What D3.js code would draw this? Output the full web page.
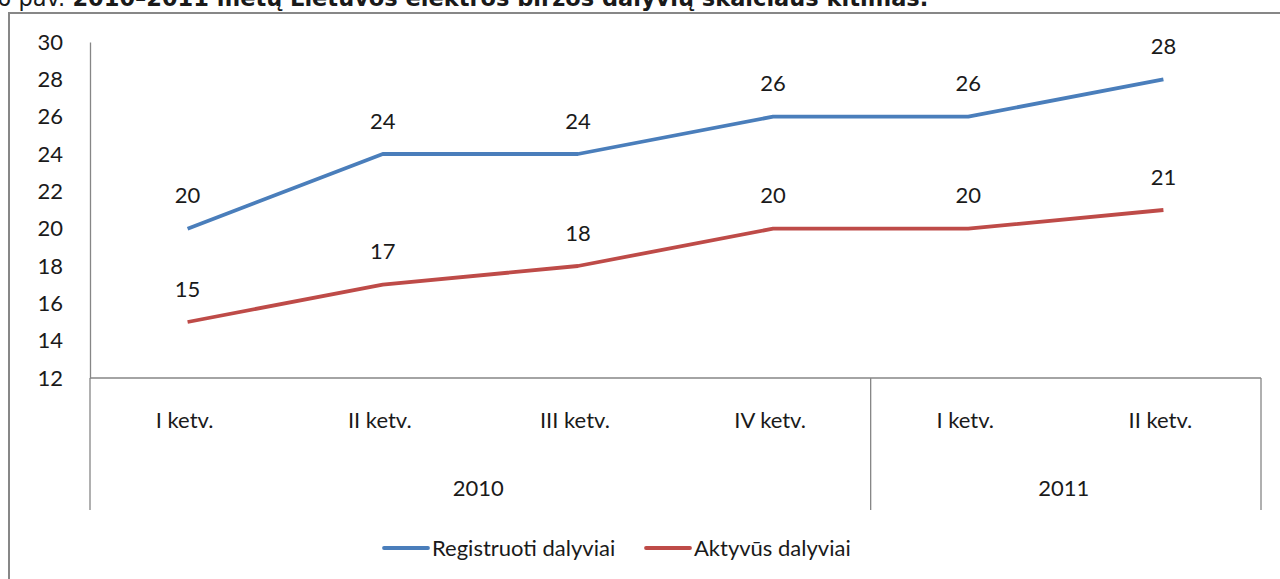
<!DOCTYPE html>
<html>
<head>
<meta charset="utf-8">
<script src="https://cdn.jsdelivr.net/npm/d3@7"></script>
<style>
body{margin:0;background:#fff;}
text{font-family:Lato,"Open Sans",sans-serif;fill:#1a1a1a;}
</style>
</head>
<body>
<div class="canvas"></div>
<script>
const categories=["I ketv.","II ketv.","III ketv.","IV ketv.","I ketv.","II ketv."];
const years=["2010","2011"];
const yearSpans=[4,2];
const registruoti=[20,24,24,26,26,28];
const aktyvus=[15,17,18,20,20,21];
const yTicks=[12,14,16,18,20,22,24,26,28,30];
const seriesNames=["Registruoti dalyviai","Aktyvūs dalyviai"];
const colors=["#4a7ebb","#be4b48"];

const svg=d3.select('.canvas').append('svg')
.attr("width",1280)
.attr('height',579);

// caption, cut off at the top like in the source
const cap=svg.append('text')
.attr("x",-3)
.attr("y",6)
.style("font-family","'DejaVu Sans',sans-serif")
.style("font-size","22.5px")
.attr("fill","#000");
cap.append('tspan').text("6 pav. ");
cap.append('tspan').style("font-weight","bold").text("2010–2011 metų Lietuvos elektros biržos dalyvių skaičiaus kitimas.");

// chart frame
svg.append('rect')
.attr("x",9).attr("y",13)
.attr("width",1300).attr("height",600)
.attr("fill","#fff")
.attr("stroke","#878787")
.attr("stroke-width",2);

const margin={left:90,top:42,right:19};
const plotBottom=378;
const groupBottom=510;
const graphWidth=1261-margin.left;
const graphHeight=plotBottom-margin.top;
const fs="22px";

const graph=svg.append('g')
.attr("transform",`translate(${margin.left},${margin.top})`);

const x=d3.scaleBand()
.domain(d3.range(categories.length))
.range([0,graphWidth]);

const y=d3.scaleLinear()
.domain([12,30])
.range([graphHeight,0]);

// y axis
const yAxis=d3.axisLeft(y).tickValues(yTicks).tickSize(0).tickPadding(27);
const yAxisGroup=graph.append('g').call(yAxis);
yAxisGroup.select('.domain').attr("stroke","#868686").attr("stroke-width",1.3);
yAxisGroup.selectAll('text').style("font-size",fs).attr("fill","#1a1a1a");

// x axis line
graph.append('line')
.attr("x1",0).attr("x2",graphWidth)
.attr("y1",graphHeight).attr("y2",graphHeight)
.attr("stroke","#868686").attr("stroke-width",1.3);

// group separators
const bounds=[0];
yearSpans.forEach((s,i)=>bounds.push(bounds[i]+s));
graph.selectAll('line.sep')
.data(bounds)
.enter().append('line')
.attr("class","sep")
.attr("x1",d=>d<categories.length?x(d):graphWidth)
.attr("x2",d=>d<categories.length?x(d):graphWidth)
.attr("y1",graphHeight)
.attr("y2",groupBottom-margin.top)
.attr("stroke","#868686").attr("stroke-width",1.3);

// category labels
graph.selectAll('text.cat')
.data(categories)
.enter().append('text')
.attr("class","cat")
.attr("x",(d,i)=>x(i)+x.bandwidth()/2-3)
.attr("y",graphHeight+42)
.attr("dy","0.35em")
.attr("text-anchor","middle")
.style("font-size",fs)
.text(d=>d);

// year labels
graph.selectAll('text.year')
.data(years)
.enter().append('text')
.attr("class","year")
.attr("x",(d,i)=>{
  const a=x(bounds[i]);
  const b=bounds[i+1]<categories.length?x(bounds[i+1]):graphWidth;
  return (a+b)/2-2;
})
.attr("y",graphHeight+110)
.attr("dy","0.35em")
.attr("text-anchor","middle")
.style("font-size",fs)
.text(d=>d);

// lines
const line=d3.line()
.x((d,i)=>x(i)+x.bandwidth()/2)
.y(d=>y(d));

[registruoti,aktyvus].forEach((data,k)=>{
  graph.append('path')
  .datum(data)
  .attr("d",line)
  .attr("fill","none")
  .attr("stroke",colors[k])
  .attr("stroke-width",3.8)
  .attr("stroke-linejoin","round");

  graph.selectAll(`text.lab${k}`)
  .data(data)
  .enter().append('text')
  .attr("class",`lab${k}`)
  .attr("x",(d,i)=>x(i)+x.bandwidth()/2)
  .attr("y",d=>y(d)-33)
  .attr("dy","0.35em")
  .attr("text-anchor","middle")
  .style("font-size",fs)
  .text(d=>d);
});

// legend
const legendX=[384,646];
const legend=svg.selectAll('g.legend')
.data(seriesNames)
.enter().append('g')
.attr("class","legend")
.attr("transform",(d,i)=>`translate(${legendX[i]},548)`);

legend.append('line')
.attr("x1",0).attr("x2",44)
.attr("stroke",(d,i)=>colors[i])
.attr("stroke-width",3.8)
.attr("stroke-linecap","round");

legend.append('text')
.attr("x",48)
.attr("dy","0.35em")
.style("font-size",fs)
.text(d=>d);
</script>
</body>
</html>
